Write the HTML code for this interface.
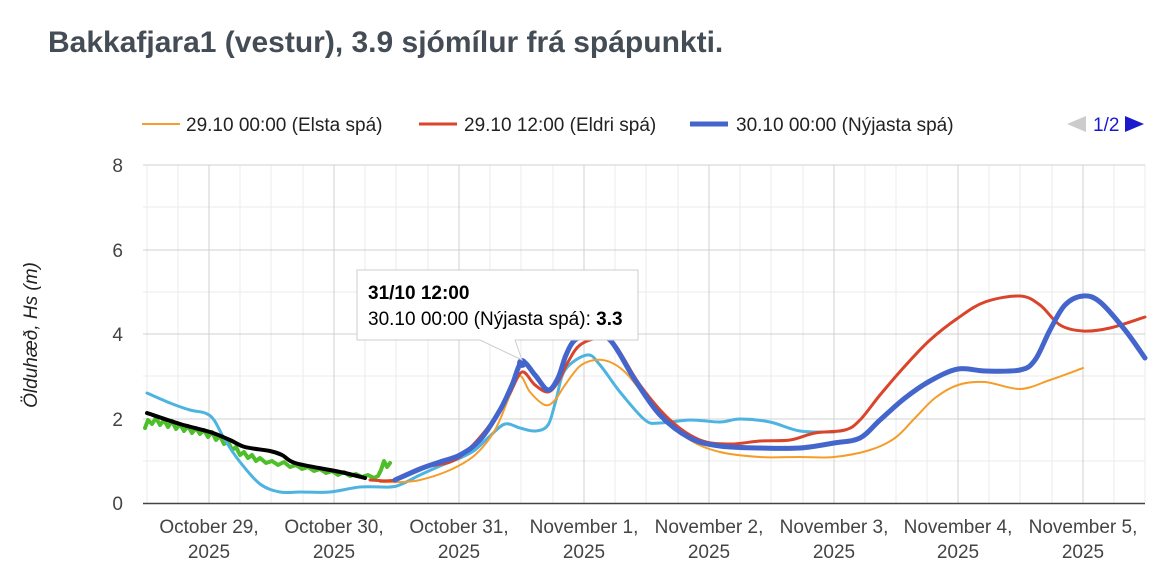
<!DOCTYPE html>
<html><head><meta charset="utf-8"><style>
body{margin:0;background:#fff;width:1172px;height:583px;overflow:hidden}
text{font-family:"Liberation Sans",Arial,sans-serif}
</style></head><body>
<svg id="s" width="1172" height="583" xmlns="http://www.w3.org/2000/svg">
<text x="48" y="52" font-size="30" font-weight="bold" fill="#444d55">Bakkafjara1 (vestur), 3.9 sjómílur frá spápunkti.</text>
<g font-size="19" fill="#222">
<line x1="142" y1="124" x2="180" y2="124" stroke="#f59d2a" stroke-width="2"/>
<text x="186" y="131">29.10 00:00 (Elsta spá)</text>
<line x1="419" y1="124" x2="457" y2="124" stroke="#d9442a" stroke-width="3"/>
<text x="464" y="131">29.10 12:00 (Eldri spá)</text>
<line x1="690" y1="124" x2="728" y2="124" stroke="#4466cc" stroke-width="5"/>
<text x="736" y="131">30.10 00:00 (Nýjasta spá)</text>
<polygon points="1067,124 1086,116 1086,132" fill="#ccc"/>
<text x="1093" y="131" fill="#1a1acc">1/2</text>
<polygon points="1144,124 1125,116 1125,132" fill="#1a1acc"/>
</g>
<g stroke="#ebebeb" stroke-width="1">
<line x1="143" y1="207" x2="1145" y2="207"/><line x1="143" y1="292" x2="1145" y2="292"/>
<line x1="143" y1="376" x2="1145" y2="376"/><line x1="143" y1="461" x2="1145" y2="461"/>
<line x1="147" y1="165" x2="147" y2="503"/><line x1="178" y1="165" x2="178" y2="503"/><line x1="240" y1="165" x2="240" y2="503"/><line x1="271" y1="165" x2="271" y2="503"/><line x1="303" y1="165" x2="303" y2="503"/>
<line x1="365" y1="165" x2="365" y2="503"/><line x1="396" y1="165" x2="396" y2="503"/><line x1="428" y1="165" x2="428" y2="503"/>
<line x1="490" y1="165" x2="490" y2="503"/><line x1="521" y1="165" x2="521" y2="503"/><line x1="553" y1="165" x2="553" y2="503"/>
<line x1="615" y1="165" x2="615" y2="503"/><line x1="646" y1="165" x2="646" y2="503"/><line x1="678" y1="165" x2="678" y2="503"/>
<line x1="740" y1="165" x2="740" y2="503"/><line x1="771" y1="165" x2="771" y2="503"/><line x1="803" y1="165" x2="803" y2="503"/>
<line x1="865" y1="165" x2="865" y2="503"/><line x1="896" y1="165" x2="896" y2="503"/><line x1="927" y1="165" x2="927" y2="503"/>
<line x1="989" y1="165" x2="989" y2="503"/><line x1="1020" y1="165" x2="1020" y2="503"/><line x1="1052" y1="165" x2="1052" y2="503"/>
<line x1="1114" y1="165" x2="1114" y2="503"/><line x1="1145" y1="165" x2="1145" y2="503"/>
</g>
<g stroke="#d0d0d0" stroke-width="1">
<line x1="143" y1="165" x2="1145" y2="165"/><line x1="143" y1="250" x2="1145" y2="250"/>
<line x1="143" y1="334" x2="1145" y2="334"/><line x1="143" y1="419" x2="1145" y2="419"/>
<line x1="209" y1="165" x2="209" y2="503"/><line x1="334" y1="165" x2="334" y2="503"/><line x1="459" y1="165" x2="459" y2="503"/><line x1="584" y1="165" x2="584" y2="503"/><line x1="709" y1="165" x2="709" y2="503"/><line x1="834" y1="165" x2="834" y2="503"/><line x1="958" y1="165" x2="958" y2="503"/><line x1="1083" y1="165" x2="1083" y2="503"/>
</g>
<line x1="143" y1="503.5" x2="1145" y2="503.5" stroke="#444" stroke-width="1.5"/>
<g font-size="19" fill="#444" text-anchor="end">
<text x="123" y="172">8</text><text x="123" y="257">6</text><text x="123" y="341">4</text><text x="123" y="426">2</text><text x="123" y="510">0</text>
</g>
<text transform="translate(37,335) rotate(-90)" font-size="19" font-style="italic" fill="#222" text-anchor="middle">Ölduhæð, Hs (m)</text>
<g font-size="19" fill="#444" text-anchor="middle">
<text x="209" y="533">October 29,</text><text x="209" y="558">2025</text>
<text x="334" y="533">October 30,</text><text x="334" y="558">2025</text>
<text x="459" y="533">October 31,</text><text x="459" y="558">2025</text>
<text x="584" y="533">November 1,</text><text x="584" y="558">2025</text>
<text x="709" y="533">November 2,</text><text x="709" y="558">2025</text>
<text x="834" y="533">November 3,</text><text x="834" y="558">2025</text>
<text x="958" y="533">November 4,</text><text x="958" y="558">2025</text>
<text x="1083" y="533">November 5,</text><text x="1083" y="558">2025</text>
</g>
<g fill="none" stroke-linejoin="round" stroke-linecap="round">
<polyline stroke="#4cbf2a" stroke-width="4" points="145,428 148,420 152,424 156,418 160,425 164,420 168,427 172,421 176,429 180,424 184,431 188,426 192,433 196,428 200,434 204,430 208,437 212,432 216,440 220,436 224,444 228,441 232,450 236,447 240,455 244,452 248,458 252,455 256,461 260,458 266,463 272,461 278,465 284,462 290,467 296,465 302,469 308,467 314,471 320,469 326,473 332,471 338,475 344,472 350,476 356,474 362,477 368,475 374,478 378,476 381,470 384,461 387,467 390,463"/>
<polyline class="sm" stroke="#4db3e0" stroke-width="3" points="147,393 170,403 190,410 205,413 214,420 225,440 240,462 260,484 280,492 300,492 330,492 360,487 390,487 402,484 420,475 440,466 460,458 475,450 490,436 505,424 520,428 535,431 548,425 556,400 565,370 587,355 600,365 620,392 645,420 660,423 690,420 720,422 740,419 770,422 800,431 834,432"/>
<polyline class="sm" stroke="#f59d2a" stroke-width="2" points="380,482 400,482 420,480 450,470 475,455 495,430 510,395 520,376 530,392 545,405 555,400 565,385 580,366 595,360 610,362 625,372 640,390 660,415 690,440 720,452 760,457 800,457 834,457 870,450 895,438 915,418 935,398 958,385 985,382 1020,389 1050,380 1083,368"/>
<polyline class="sm" stroke="#d9442a" stroke-width="3" points="370,480 395,480 420,468 450,462 470,448 495,418 510,393 522,372 535,385 548,392 558,382 568,362 580,345 600,338 615,345 640,385 670,420 700,440 730,444 760,441 790,440 815,433 845,430 860,420 880,395 905,366 930,340 958,318 985,302 1020,296 1040,305 1060,325 1083,331 1110,328 1145,317"/>
<polyline class="sm" stroke="#4466cc" stroke-width="5" points="395,480 420,469 440,462 460,455 480,440 500,410 512,385 522,362 535,375 548,390 558,378 566,355 575,340 590,335 610,340 635,380 660,415 690,438 720,446 760,448 800,448 834,443 860,438 880,420 905,398 930,381 958,369 985,371 1020,370 1035,360 1050,330 1065,305 1083,296 1100,302 1125,330 1145,358"/>
<polyline class="sm" stroke="#000" stroke-width="4" points="147,413 180,424 210,432 230,440 245,447 270,451 282,455 295,463 330,470 345,473 365,478"/>
</g>
<circle cx="522" cy="363" r="5" fill="#4466cc"/>
<path d="M357,270 H638 V340 H515 L522,360 L480,340 H357 Z" fill="#fff" stroke="#ccc" stroke-width="1"/>
<text x="368" y="299" font-size="19" font-weight="bold" fill="#000">31/10 12:00</text>
<text x="368" y="325" font-size="19" fill="#000">30.10 00:00 (Nýjasta spá): <tspan font-weight="bold">3.3</tspan></text>
</svg>
<script>
document.querySelectorAll('polyline.sm').forEach(function(pl){
var p=pl.getAttribute('points').trim().split(/\s+/).map(function(s){return s.split(',').map(Number);});
var d='M'+p[0][0]+','+p[0][1];
for(var i=0;i<p.length-1;i++){
var p0=p[i-1]||p[i],p1=p[i],p2=p[i+1],p3=p[i+2]||p2;
var c1x=p1[0]+(p2[0]-p0[0])/6,c1y=p1[1]+(p2[1]-p0[1])/6;
var c2x=p2[0]-(p3[0]-p1[0])/6,c2y=p2[1]-(p3[1]-p1[1])/6;
d+=' C'+c1x+','+c1y+' '+c2x+','+c2y+' '+p2[0]+','+p2[1];}
var np=document.createElementNS('http://www.w3.org/2000/svg','path');
['stroke','stroke-width'].forEach(function(a){np.setAttribute(a,pl.getAttribute(a));});
np.setAttribute('d',d);pl.parentNode.replaceChild(np,pl);
});
</script>
</body></html>
